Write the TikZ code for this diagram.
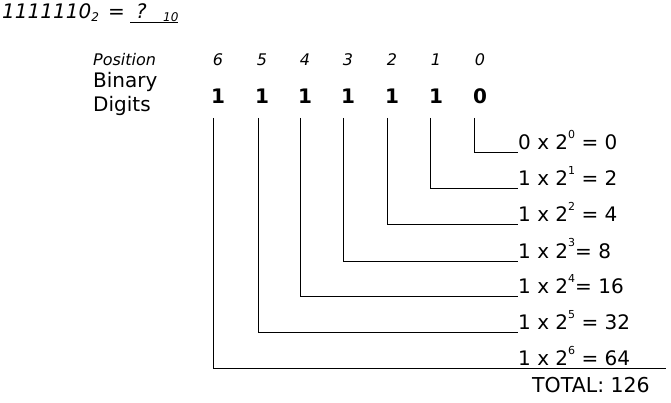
\documentclass[tikz,border=0pt]{standalone}
\usepackage{fontspec}
\setmainfont{DejaVu Sans}
\newcommand\mysup[1]{\raisebox{0.55em}{\fontsize{11}{11}\selectfont #1}}
\newcommand\mysub[1]{\raisebox{-0.15em}{\fontsize{12}{12}\selectfont #1}}
\begin{document}
\begin{tikzpicture}[x=1pt,y=-1pt,
  txt/.style={inner sep=0pt,anchor=base west,font=\fontsize{20}{22}\selectfont},
  ttl/.style={inner sep=0pt,anchor=base west,font=\fontsize{20}{22}\selectfont\itshape},
  ttlsub/.style={inner sep=0pt,anchor=base west,font=\fontsize{12}{12}\selectfont\itshape},
  posnum/.style={inner sep=0pt,anchor=base,font=\fontsize{16}{18}\selectfont\itshape},
  bit/.style={inner sep=0pt,anchor=base,font=\fontsize{20}{22}\selectfont\bfseries},
  conn/.style={draw=black,line width=1pt}]
\useasboundingbox (0,0) rectangle (671,403);
% title
\node[ttl] (title) at (2,19) {1111110\mysub{2}};
\node[ttl] (teq) at (108,19) {=};
\node[ttl] (tq) at (136,19) {?};
\node[ttlsub] (tten) at (163,22) {10};
\coordinate (u1) at (130,23);
\coordinate (u2) at (178,23);
\draw[line width=1pt] (u1) -- (u2);
% headers
\node[posnum,anchor=base west] (position) at (93,66) {Position};
\node[txt] (binary) at (93,88) {Binary};
\node[txt] (digits) at (93,112) {Digits};
% position numbers and digits
\foreach \i/\x/\b in {6/218/1,5/262/1,4/305/1,3/348/1,2/392/1,1/436/1,0/480/0}{
  \node[posnum] (p\i) at (\x,66) {\i};
  \node[bit] (d\i) at (\x,104) {\b};
}
% connector tops
\foreach \i/\x in {6/213,5/258,4/300,3/343,2/387,1/430,0/474}{
  \coordinate (v\i) at (\x,118);
}
% labels
\node[txt] (l0) at (518,150) {0 x 2\mysup{0} = 0};
\node[txt] (l1) at (518,186) {1 x 2\mysup{1} = 2};
\node[txt] (l2) at (518,222) {1 x 2\mysup{2} = 4};
\node[txt] (l3) at (518,258) {1 x 2\mysup{3}= 8};
\node[txt] (l4) at (518,293) {1 x 2\mysup{4}= 16};
\node[txt] (l5) at (518,329) {1 x 2\mysup{5} = 32};
\node[txt] (l6) at (518,365) {1 x 2\mysup{6} = 64};
\node[txt,font=\fontsize{20.5}{22}\selectfont] (total) at (532,392) {TOTAL: 126};
% line ends
\coordinate (e0) at (518,153);
\coordinate (e1) at (518,189);
\coordinate (e2) at (518,225);
\coordinate (e3) at (518,261);
\coordinate (e4) at (518,296);
\coordinate (e5) at (518,332);
\coordinate (e6) at (666,368);
\foreach \i in {0,...,6}{
  \draw[conn] (v\i) |- (e\i);
}
\end{tikzpicture}
\end{document}
